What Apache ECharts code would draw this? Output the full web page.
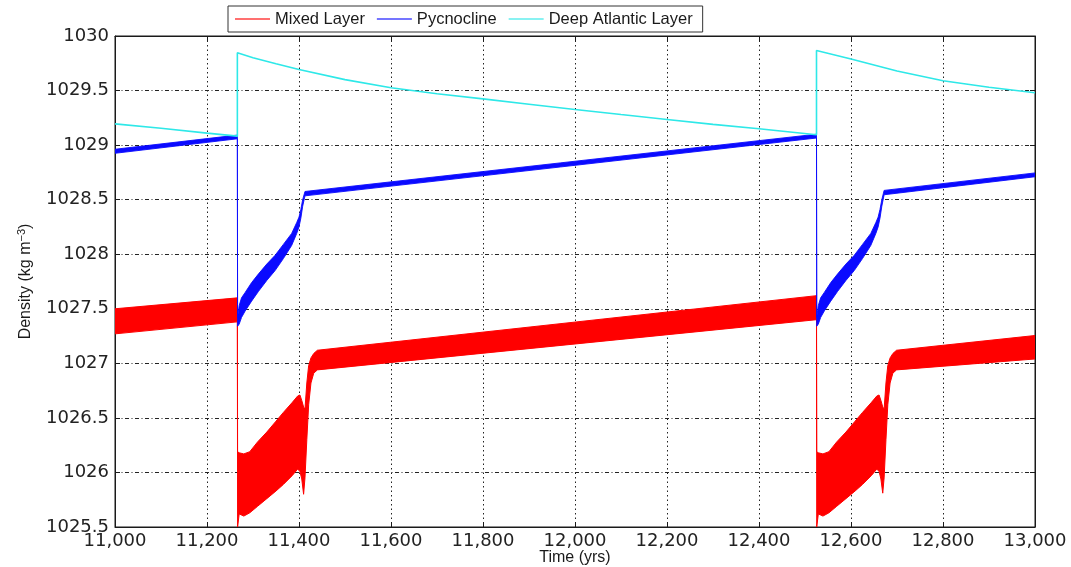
<!DOCTYPE html>
<html>
<head>
<meta charset="utf-8">
<script src="https://cdn.jsdelivr.net/npm/echarts@6/dist/echarts.min.js"></script>
<style>
  html, body { margin: 0; padding: 0; background: #fff; }
  #chart { width: 1071px; height: 567px; }
</style>
</head>
<body>
<div id="chart"></div>
<script>
// Mixed layer density: envelope of the fast oscillation (lower / upper edge)
const mixedYears = [11000, 11266, 11266.5, 11270, 11280, 11293, 11310, 11330, 11350, 11366, 11385, 11397, 11402, 11406, 11410, 11413, 11417, 11421, 11426, 11432, 11440,
                    12525, 12525.5, 12529, 12539, 12552, 12569, 12589, 12609, 12625, 12644, 12656, 12661, 12665, 12669, 12672, 12676, 12680, 12685, 12691, 12699, 13000];
const mixedLow = [1027.27, 1027.38, 1025.50, 1025.62, 1025.60, 1025.63, 1025.69, 1025.76, 1025.83, 1025.89, 1025.97, 1026.03, 1026.01, 1025.94, 1025.80, 1025.95, 1026.30, 1026.62, 1026.82, 1026.91, 1026.94,
                  1027.40, 1025.50, 1025.62, 1025.60, 1025.63, 1025.69, 1025.76, 1025.83, 1025.89, 1025.97, 1026.03, 1026.01, 1025.94, 1025.81, 1025.95, 1026.30, 1026.62, 1026.82, 1026.91, 1026.94, 1027.04];
const mixedHigh = [1027.50, 1027.60, 1026.19, 1026.18, 1026.17, 1026.19, 1026.28, 1026.37, 1026.47, 1026.55, 1026.64, 1026.70, 1026.71, 1026.66, 1026.60, 1026.58, 1026.82, 1026.98, 1027.05, 1027.09, 1027.12,
                   1027.62, 1026.19, 1026.18, 1026.17, 1026.19, 1026.28, 1026.37, 1026.47, 1026.55, 1026.64, 1026.70, 1026.71, 1026.66, 1026.60, 1026.58, 1026.82, 1026.98, 1027.05, 1027.09, 1027.12, 1027.255];

// Pycnocline density: lower / upper edge of the trace
const pycYears = [11000, 11266, 11266.5, 11270, 11275, 11283, 11297, 11312, 11330, 11348, 11366, 11384, 11395, 11400, 11404, 11408, 11413,
                  12525, 12525.5, 12529, 12534, 12542, 12556, 12571, 12589, 12607, 12625, 12643, 12654, 12659, 12663, 12667, 12672, 13000];
const pycLow = [1028.925, 1029.058, 1027.34, 1027.36, 1027.42, 1027.48, 1027.57, 1027.66, 1027.76, 1027.85, 1027.96, 1028.08, 1028.19, 1028.25, 1028.33, 1028.44, 1028.535,
                1029.065, 1027.34, 1027.36, 1027.42, 1027.48, 1027.57, 1027.66, 1027.76, 1027.85, 1027.96, 1028.08, 1028.19, 1028.25, 1028.33, 1028.44, 1028.545, 1028.71];
const pycHigh = [1028.962, 1029.092, 1027.42, 1027.53, 1027.60, 1027.65, 1027.74, 1027.82, 1027.91, 1027.99, 1028.09, 1028.19, 1028.29, 1028.34, 1028.41, 1028.50, 1028.575,
                 1029.10, 1027.42, 1027.53, 1027.60, 1027.65, 1027.74, 1027.82, 1027.91, 1027.99, 1028.09, 1028.19, 1028.29, 1028.34, 1028.41, 1028.50, 1028.585, 1028.745];

// Deep Atlantic layer density
const deepYears = [11000, 11100, 11200, 11266, 11266, 11300, 11350, 11400, 11500, 11600, 11700, 11800, 11900, 12000, 12100, 12200, 12300, 12400, 12525,
                   12525, 12600, 12700, 12800, 12900, 13000];
const deepValues = [1029.195, 1029.155, 1029.11, 1029.082, 1029.846, 1029.80, 1029.745, 1029.693, 1029.60, 1029.525, 1029.47, 1029.424, 1029.375, 1029.326, 1029.28, 1029.235, 1029.19, 1029.15, 1029.095,
                    1029.867, 1029.79, 1029.68, 1029.59, 1029.53, 1029.48];

const seriesNames = ['Mixed Layer', 'Pycnocline', 'Deep Atlantic Layer'];
const seriesColors = ['#ff0000', '#0a0aff', '#2ee8e8'];

const xMin = 11000, xMax = 13000, xStep = 200;
const yMin = 1025.5, yMax = 1030, yStep = 0.5;

const tickFont = 'DejaVu Sans';
const textFont = 'Liberation Sans';

// Filled band between a lower and an upper edge, projected through the grid's axes
function bandSeries(name, years, low, high, color, stroke) {
  return {
    type: 'custom',
    name: name,
    coordinateSystem: 'cartesian2d',
    clip: true,
    itemStyle: { color: color },
    data: years.map((x, i) => [x, low[i], high[i]]),
    encode: { x: 0, y: [1, 2] },
    renderItem: function (params, api) {
      if (params.dataIndex !== 0) return null;
      const pts = [];
      for (let i = 0; i < years.length; i++) pts.push(api.coord([years[i], high[i]]));
      for (let i = years.length - 1; i >= 0; i--) pts.push(api.coord([years[i], low[i]]));
      return {
        type: 'polygon',
        shape: { points: pts },
        style: { fill: color, stroke: color, lineWidth: stroke, lineJoin: 'miter' }
      };
    }
  };
}

const chart = echarts.init(document.getElementById('chart'), null, { renderer: 'canvas' });

const axisLineStyle = { color: '#1a1a1a', width: 1 };

chart.setOption({
  animation: false,
  backgroundColor: '#ffffff',
  grid: {
    left: 115, right: 36, top: 36, bottom: 40,
    outerBoundsMode: 'none',
    show: true, borderColor: '#1a1a1a', borderWidth: 1, backgroundColor: 'transparent'
  },
  legend: {
    left: 228,
    top: 6,
    orient: 'horizontal',
    icon: 'rect',
    itemWidth: 35,
    itemHeight: 1.5,
    itemGap: 12,
    padding: [4, 10, 4, 7],
    borderColor: '#333',
    borderWidth: 1,
    backgroundColor: '#fff',
    textStyle: { fontFamily: textFont, fontSize: 16.5, color: '#1a1a1a', lineHeight: 18 },
    data: seriesNames.map((n, i) => ({ name: n, itemStyle: { color: seriesColors[i], opacity: 0.75 } }))
  },
  xAxis: [{
    type: 'value',
    min: xMin, max: xMax, interval: xStep,
    position: 'bottom',
    name: 'Time (yrs)',
    nameLocation: 'middle',
    nameGap: 23,
    nameMoveOverlap: false,
    nameTextStyle: { fontFamily: textFont, fontSize: 16, color: '#1a1a1a', verticalAlign: 'top' },
    axisLine: { show: true, lineStyle: axisLineStyle },
    axisTick: { show: true, inside: true, length: 5, lineStyle: axisLineStyle },
    axisLabel: {
      margin: 5,
      fontFamily: tickFont, fontSize: 18, color: '#222',
      formatter: v => String(Math.round(v)).replace(/\B(?=(\d{3})+(?!\d))/g, ',')
    },
    splitLine: { show: true, lineStyle: { color: '#222', width: 1, type: [1.5, 3] } }
  }, {
    type: 'value',
    min: xMin, max: xMax, interval: xStep,
    position: 'top',
    axisLine: { show: true, lineStyle: axisLineStyle },
    axisTick: { show: true, inside: true, length: 5, lineStyle: axisLineStyle },
    axisLabel: { show: false },
    splitLine: { show: false }
  }],
  yAxis: [{
    type: 'value',
    min: yMin, max: yMax, interval: yStep,
    position: 'left',
    name: 'Density (kg m{sup|−3})',
    nameLocation: 'middle',
    nameGap: 80,
    nameTextStyle: {
      fontFamily: textFont, fontSize: 16, color: '#1a1a1a',
      rich: {
        sup: { fontFamily: textFont, fontSize: 11, color: '#1a1a1a', verticalAlign: 'top', padding: [0, 0, 8, 0] }
      }
    },
    axisLine: { show: true, lineStyle: axisLineStyle },
    axisTick: { show: true, inside: true, length: 5, lineStyle: axisLineStyle },
    axisLabel: {
      margin: 6,
      fontFamily: tickFont, fontSize: 18, color: '#222',
      formatter: v => String(+v.toFixed(1))
    },
    splitLine: { show: true, lineStyle: { color: '#222', width: 1, type: [4, 2.5, 1, 2.5] } }
  }, {
    type: 'value',
    min: yMin, max: yMax, interval: yStep,
    position: 'right',
    axisLine: { show: true, lineStyle: axisLineStyle },
    axisTick: { show: true, inside: true, length: 5, lineStyle: axisLineStyle },
    axisLabel: { show: false },
    splitLine: { show: false }
  }],
  series: [
    bandSeries(seriesNames[0], mixedYears, mixedLow, mixedHigh, seriesColors[0], 1),
    bandSeries(seriesNames[1], pycYears, pycLow, pycHigh, seriesColors[1], 0.9),
    {
      type: 'line',
      name: seriesNames[2],
      data: deepYears.map((x, i) => [x, deepValues[i]]),
      showSymbol: false,
      symbol: 'none',
      smooth: false,
      lineStyle: { color: seriesColors[2], width: 1.6 },
      itemStyle: { color: seriesColors[2] },
      z: 3
    }
  ]
});
</script>
</body>
</html>
